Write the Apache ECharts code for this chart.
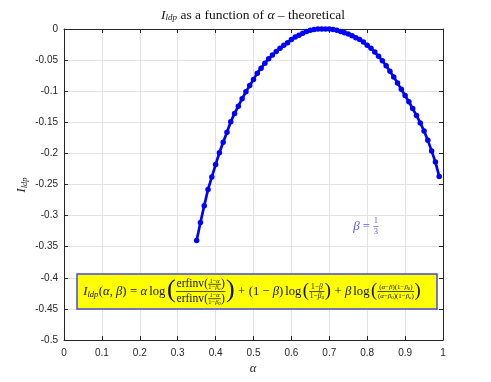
<!DOCTYPE html>
<html><head><meta charset="utf-8">
<script src="https://cdn.jsdelivr.net/npm/echarts@6/dist/echarts.min.js"></script>
<style>html,body{margin:0;padding:0;background:#fff}#c{width:491px;height:382px}</style>
</head><body><div id="c"></div><script>
const alpha = [0.35,0.36,0.37,0.38,0.39,0.40,0.41,0.42,0.43,0.44,0.45,0.46,0.47,0.48,0.49,0.50,0.51,0.52,0.53,0.54,0.55,0.56,0.57,0.58,0.59,0.60,0.61,0.62,0.63,0.64,0.65,0.66,0.67,0.68,0.69,0.70,0.71,0.72,0.73,0.74,0.75,0.76,0.77,0.78,0.79,0.80,0.81,0.82,0.83,0.84,0.85,0.86,0.87,0.88,0.89,0.90,0.91,0.92,0.93,0.94,0.95,0.96,0.97,0.98,0.99];
const Ildp = [-0.340,-0.311,-0.284,-0.258,-0.238,-0.218,-0.199,-0.182,-0.166,-0.149,-0.136,-0.124,-0.112,-0.101,-0.091,-0.081,-0.071,-0.063,-0.055,-0.048,-0.042,-0.036,-0.031,-0.026,-0.022,-0.017,-0.013,-0.010,-0.007,-0.004,-0.002,-0.001,0.000,0.000,0.000,0.000,-0.001,-0.002,-0.004,-0.006,-0.008,-0.011,-0.014,-0.017,-0.021,-0.026,-0.031,-0.037,-0.044,-0.051,-0.059,-0.068,-0.077,-0.087,-0.097,-0.107,-0.117,-0.128,-0.139,-0.151,-0.164,-0.179,-0.196,-0.214,-0.237];
const xTickLabels = ['0','0.1','0.2','0.3','0.4','0.5','0.6','0.7','0.8','0.9','1'];
const yTickLabels = ['-0.5','-0.45','-0.4','-0.35','-0.3','-0.25','-0.2','-0.15','-0.1','-0.05','0'];
const betaLabel = {num:'1', den:'3'};

const cv = document.createElement('canvas').getContext('2d');
const SERIF = '"Liberation Serif", "DejaVu Serif", serif';
let FC = '#111';
function fontOf(sz, it){ return (it?'italic ':'') + sz + 'px ' + SERIF; }
function meas(s, sz, it){ cv.font = fontOf(sz,it); return cv.measureText(s).width; }
function T(s, sz, it, dy, col){
  const w = meas(s, sz, it);
  const c = col;
  return {w, draw:(x,y)=>[{type:'text', x:x, y:y+(dy||0), z:110,
    style:{text:s, font:fontOf(sz,it), fill:c||FC, textAlign:'left', textVerticalAlign:'middle'}}]};
}
function S(w){ return {w, draw:()=>[]}; }
function H(list){
  const w = list.reduce((a,b)=>a+b.w,0);
  return {w, draw:(x,y)=>{let out=[],cx=x; for(const b of list){out=out.concat(b.draw(cx,y)); cx+=b.w;} return out;}};
}
function F(num, den, gap, pad, col){
  const w = Math.max(num.w, den.w) + 2*pad;
  return {w, draw:(x,y)=>[].concat(num.draw(x+(w-num.w)/2, y-gap), den.draw(x+(w-den.w)/2, y+gap),
    [{type:'line', z:110, shape:{x1:x+pad*0.4,y1:y,x2:x+w-pad*0.4,y2:y}, style:{stroke:col||FC, lineWidth:0.7}}])};
}
function place(box, x, y){ return box.draw(x, y); }

// ---- formula ----
const K = 1.1;
const M = 11.5*K;
function erf(sub){
  const s = 5.8*K;
  return H([T('erfinv',10.5*K), T('(',10.5*K),
    F(H([T('1−',s),T('α',s,true)]), H([T('1−',s),T('β',s,true),T(sub,4.2*K,true,1.5)]), 3.4, 0.4),
    T(')',10.5*K)]);
}
const frac1 = F(erf('u'), erf('0'), 7.2, 1);
const s2 = 6.8*K;
const frac2 = F(H([T('1−',s2),T('β',s2,true)]), H([T('1−',s2),T('β',s2,true),T('u',4.6*K,true,1.6)]), 4.6, 0.8);
const s3 = 6.3*K;
const frac3 = F(
  H([T('(',s3),T('α',s3,true),T('−',s3),T('β',s3,true),T(')(1−',s3),T('β',s3,true),T('0',4.4*K,false,1.6),T(')',s3)]),
  H([T('(',s3),T('α',s3,true),T('−',s3),T('β',s3,true),T('0',4.4*K,false,1.6),T(')(1−',s3),T('β',s3,true),T('u',4.4*K,true,1.6),T(')',s3)]),
  4.6, 0.8);
const formula = H([
  T('I',M,true), T('ldp',8.5,true,3), S(0.5), T('(',M), T('α',M,true), T(', ',M), T('β',M,true), T(')',M), S(3.5), T('=',M), S(3.5),
  T('α',M,true), S(2), T('log',M), S(1.5), T('(',26,false,-1), frac1, T(')',26,false,-1), S(3.5), T('+',M), S(3.5),
  T('(1 − ',M), T('β',M,true), T(')',M), S(2), T('log',M), S(1.5), T('(',18.5,false,-0.5), frac2, T(')',18.5,false,-0.5), S(3.5),
  T('+',M), S(3.5), T('β',M,true), S(2), T('log',M), S(1.5), T('(',18.5,false,-0.5), frac3, T(')',18.5,false,-0.5)
]);
const formulaEls = place(formula, 252 - formula.w/2, 291.5);

// ---- title ----
FC = '#111';
const title = H([T('I',13.5,true), T('ldp',9,true,3), T(' as a function of ',13.5), T('α',13.5,true), T(' – theoretical',13.5)]);
const titleEls = place(title, 253 - title.w/2, 15);

// ---- y label (rotated) ----
const ylab = H([T('I',12.5,true,0,'#262626'), T('ldp',8.5,true,3,'#262626')]);
const ylabEls = place(ylab, -ylab.w/2, 0);

// ---- beta annotation ----
const BC = '#5a5af0';
const beta = H([T('β',13,true,0,BC), S(3), T('=',13,false,0,BC), S(3),
  F(T(betaLabel.num,8.5,false,0,BC), T(betaLabel.den,8.5,false,0,BC), 5.5, 0.8, BC)]);
const betaEls = place(beta, 366 - beta.w/2, 226.5);

const chart = echarts.init(document.getElementById('c'), null, {renderer:'canvas'});
const axisCol = '#262626';
const gridCol = '#e3e3e3';
const tickFont = {fontFamily:'"Liberation Sans", Arial, sans-serif', fontSize:10, color:'#262626'};
function xAx(pos, show){
  return {type:'value', position:pos, min:0, max:1, interval:0.1,
    axisLine:{show:true, onZero:false, lineStyle:{color:axisCol, width:1}},
    axisTick:{show:true, inside:true, length:4, lineStyle:{color:axisCol}},
    axisLabel:{show:show, margin:8, ...tickFont, formatter:v=>xTickLabels[Math.round(v*10)]},
    splitLine:{show:show, lineStyle:{color:gridCol, width:1}}};
}
function yAx(pos, show){
  return {type:'value', position:pos, min:-0.5, max:0, interval:0.05,
    axisLine:{show:true, onZero:false, lineStyle:{color:axisCol, width:1}},
    axisTick:{show:true, inside:true, length:4, lineStyle:{color:axisCol}},
    axisLabel:{show:show, margin:6, ...tickFont, formatter:v=>yTickLabels[Math.round((v+0.5)/0.05)]},
    splitLine:{show:show, lineStyle:{color:gridCol, width:1}}};
}
chart.setOption({
  animation:false,
  backgroundColor:'#fff',
  grid:{left:64, right:48, top:29, bottom:42, containLabel:false},
  xAxis:[xAx('bottom', true), xAx('top', false)],
  yAxis:[yAx('left', true), yAx('right', false)],
  series:[{type:'line', xAxisIndex:0, yAxisIndex:0, data:alpha.map((a,i)=>[a, Ildp[i]]),
    symbol:'circle', symbolSize:5.5, showSymbol:true,
    lineStyle:{color:'#0000ff', width:2.7}, itemStyle:{color:'#0000ff'}, z:5}],
  graphic:[
    {type:'rect', z:100, shape:{x:77, y:274, width:360, height:35}, style:{fill:'#ffff00', stroke:'#4848dd', lineWidth:1.5}},
    ...formulaEls,
    ...titleEls,
    ...betaEls,
    {type:'group', x:22, y:185, rotation:Math.PI/2, children:ylabEls},
    {type:'text', x:253, y:369, style:{text:'α', font:'italic 12.5px '+SERIF, fill:'#262626', textAlign:'center', textVerticalAlign:'middle'}}
  ]
});
</script></body></html>
